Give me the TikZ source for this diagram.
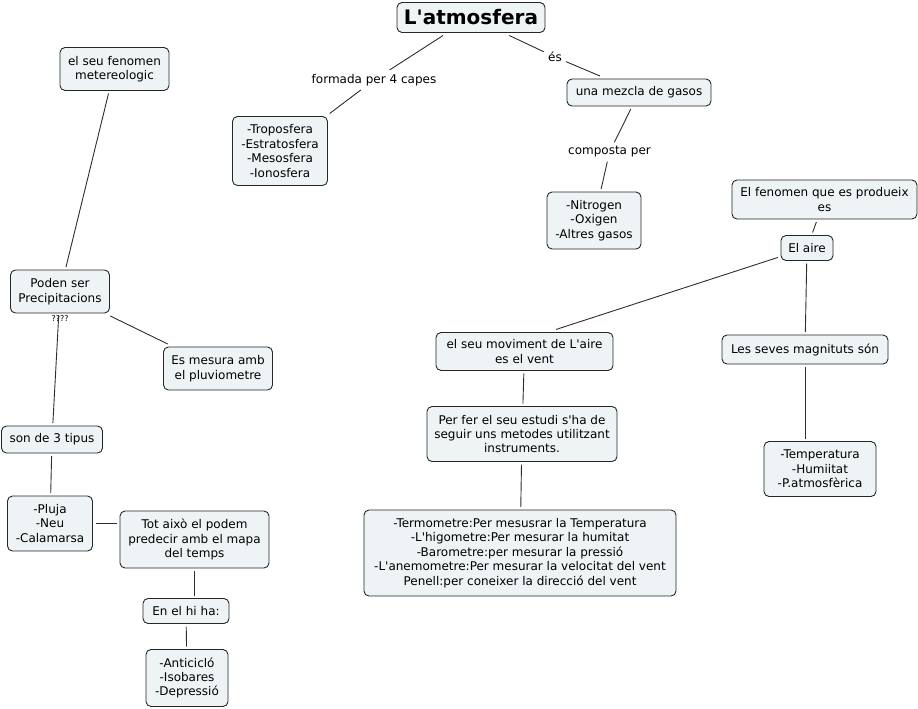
\documentclass[tikz,border=0pt]{standalone}
\usepackage{fontspec}
\setmainfont{DejaVu Sans}[Ligatures=TeXOff]
\usetikzlibrary{positioning}

\definecolor{boxfill}{RGB}{238,243,246}
\definecolor{linkgray}{RGB}{45,45,45}

\tikzset{
  concept/.style={draw=black!85, fill=boxfill, rounded corners=5pt, line width=0.9pt,
    align=center, inner xsep=2pt, inner ysep=2pt, outer sep=3pt,
    font=\fontsize{12}{14.4}\selectfont},
  linker/.style={align=center, inner sep=4pt, font=\fontsize{12}{14.4}\selectfont},
  link/.style={draw=linkgray, line width=0.9pt}
}

\begin{document}
\begin{tikzpicture}[x=1pt,y=-1pt]
\useasboundingbox (0,0) rectangle (918,709);

\node[concept, font=\fontsize{20}{24}\selectfont\bfseries, minimum width=148, minimum height=30] (atmos) at (471,17.5) {L'atmosfera};

\node[linker] (capes) at (374,80) {formada per 4 capes};
\node[concept, minimum width=95, minimum height=69] (tropos) at (280,151) {-Troposfera\\-Estratosfera\\-Mesosfera\\-Ionosfera};

\node[linker] (es) at (555,57) {és};
\node[concept, minimum width=144, minimum height=27] (mezcla) at (639,92.5) {una mezcla de gasos};
\node[linker] (composta) at (609.5,152) {composta per};
\node[concept, minimum width=94, minimum height=57] (gasos) at (594,220.5) {-Nitrogen\\-Oxigen\\-Altres gasos};

\node[concept, minimum width=185, minimum height=39] (fenomen) at (824.5,199.5) {El fenomen que es produeix\\es};
\node[concept, minimum width=52, minimum height=25] (aire) at (807,248) {El aire};
\node[concept, minimum width=177, minimum height=38] (moviment) at (524.5,351.5) {el seu moviment de L'aire\\es el vent};
\node[concept, minimum width=166, minimum height=29] (magnituts) at (805,349.5) {Les seves magnituts són};
\node[concept, minimum width=112, minimum height=55] (valors) at (820,469) {-Temperatura\\-Humiitat\\-P.atmosfèrica};
\node[concept, minimum width=190, minimum height=55] (estudi) at (522,434) {Per fer el seu estudi s'ha de\\seguir uns metodes utilitzant\\instruments.};
\node[concept, minimum width=312, minimum height=86] (instruments) at (520,553) {-Termometre:Per mesusrar la Temperatura\\-L'higometre:Per mesurar la humitat\\-Barometre:per mesurar la pressió\\-L'anemometre:Per mesurar la velocitat del vent\\Penell:per coneixer la direcció del vent};

\node[concept, minimum width=109, minimum height=43] (meteo) at (114.5,69) {el seu fenomen\\metereologic};
\node[concept, minimum width=99, minimum height=43] (poden) at (60,291.5) {Poden ser\\Precipitacions};
\node[font=\fontsize{8}{9}\selectfont, inner sep=0pt] (dubte) at (60,319) {????};
\node[concept, minimum width=109, minimum height=43] (mesura) at (218,368.5) {Es mesura amb\\el pluviometre};
\node[concept, minimum width=101, minimum height=27] (tipus) at (52,439.5) {son de 3 tipus};
\node[concept, minimum width=85, minimum height=55] (tipusllista) at (50,523.5) {-Pluja\\-Neu\\-Calamarsa};
\node[concept, minimum width=149, minimum height=57] (mapa) at (194.5,539.5) {Tot això el podem\\predecir amb el mapa\\del temps};
\node[concept, minimum width=86, minimum height=25] (hiha) at (186,611) {En el hi ha:};
\node[concept, minimum width=82, minimum height=57] (sistemes) at (187,678) {-Anticicló\\-Isobares\\-Depressió};

\draw[link] (atmos) -- (capes);
\draw[link] (capes) -- (tropos);
\draw[link] (atmos) -- (es);
\draw[link] (es) -- (mezcla);
\draw[link] (mezcla) -- (composta);
\draw[link] (composta) -- (gasos);

\draw[link] (fenomen) -- (aire);
\draw[link] (aire) -- (moviment.35);
\draw[link] (aire) -- (magnituts);
\draw[link] (magnituts.south) -- (valors.north -| magnituts.south);
\draw[link] (moviment) -- (estudi);
\draw[link] (estudi) -- (instruments);

\draw[link] (meteo) -- (poden);
\draw[link] (poden) -- (mesura);
\draw[link] (poden) -- (tipus);
\draw[link] (tipus) -- (tipusllista);
\draw[link] (tipusllista.east) -- (tipusllista.east -| mapa.west);
\draw[link] (mapa.south) -- (mapa.south |- hiha.north);
\draw[link] (hiha) -- (sistemes);

\end{tikzpicture}
\end{document}
